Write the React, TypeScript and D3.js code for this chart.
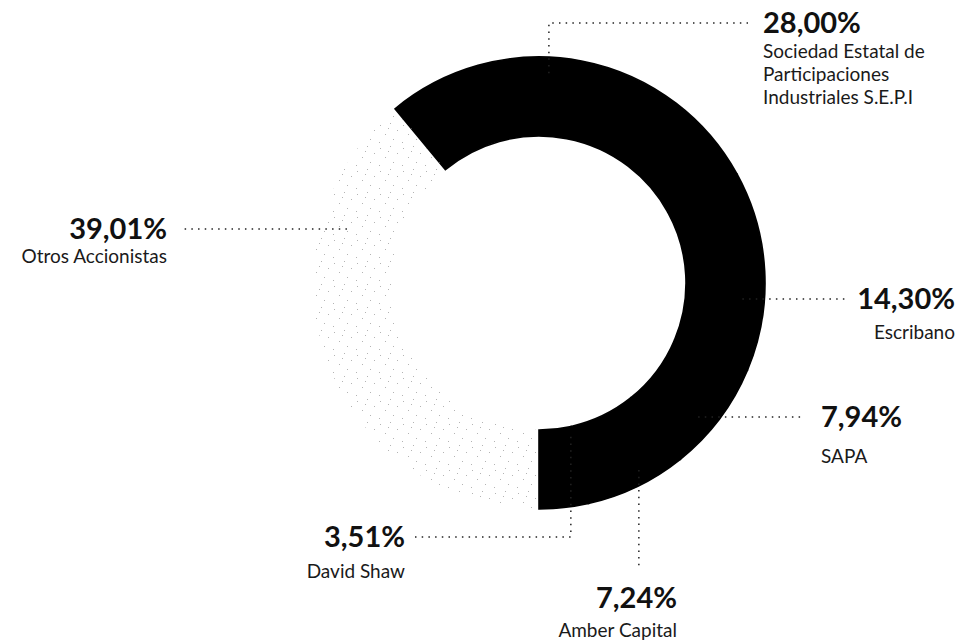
import { useEffect, useRef } from 'react';
import * as d3 from 'd3';

// shareholder structure, values in %
const shareholders = [
  'Sociedad Estatal de Participaciones Industriales S.E.P.I',
  'Escribano',
  'SAPA',
  'Amber Capital',
  'David Shaw',
  'Otros Accionistas'
];
const nameLines = [
  ['Sociedad Estatal de', 'Participaciones', 'Industriales S.E.P.I'],
  ['Escribano'],
  ['SAPA'],
  ['Amber Capital'],
  ['David Shaw'],
  ['Otros Accionistas']
];
const stakes = [28.0, 14.3, 7.94, 7.24, 3.51, 39.01];
const restName = 'Otros Accionistas';

// label placement: where the leader leaves the ring (deg / px) and where the text sits
interface LabelLayout {
  angle: number;
  r: number;
  bendY?: number;
  endX?: number;
  endY?: number;
  x: number;
  anchor: 'start' | 'end';
  labelY?: number;
  gap: number;
}
const labelLayout: LabelLayout[] = [
  { angle: 2.7, r: 210, bendY: 23, endX: 748, x: 763, anchor: 'start', gap: 25 },
  { angle: 94.5, r: 204, endX: 848, x: 955, anchor: 'end', gap: 30 },
  { angle: 130.1, r: 208, endX: 805, x: 821, anchor: 'start', gap: 36 },
  { angle: 151.9, r: 212, endY: 570, x: 677, anchor: 'end', labelY: 608, gap: 29 },
  { angle: 168.3, r: 157, bendY: 537, endX: 415, x: 405, anchor: 'end', gap: 31 },
  { angle: 285.7, r: 199.5, endX: 182, x: 167, anchor: 'end', gap: 24 }
];

const WIDTH = 961;
const HEIGHT = 641;
const FONT = 'Lato, "Open Sans", sans-serif';

export default function App() {
  const svgRef = useRef<SVGSVGElement | null>(null);

  useEffect(() => {
    const svgEl = svgRef.current;
    if (!svgEl) return;
    const svg = d3.select(svgEl);
    svg.selectAll('*').remove();

    const cx = 539;
    const cy = 283;
    const outer = 226;
    const inner = 147;

    const data = shareholders.map((name, i) => ({ name, value: stakes[i], i }));
    const total = d3.sum(data, (d) => d.value);
    const named = d3.sum(data.filter((d) => d.name !== restName), (d) => d.value);
    // named holders end exactly at 6 o'clock
    const start = Math.PI - (named / total) * 2 * Math.PI;

    const pie = d3
      .pie<{ name: string; value: number; i: number }>()
      .sort(null)
      .value((d) => d.value)
      .startAngle(start)
      .endAngle(start + 2 * Math.PI);
    const arc = d3.arc<d3.PieArcDatum<{ name: string; value: number; i: number }>>().innerRadius(inner).outerRadius(outer);

    // stipple for the "others" slice
    const defs = svg.append('defs');
    const pat = defs
      .append('pattern')
      .attr('id', 'stipple')
      .attr('width', 23)
      .attr('height', 23)
      .attr('patternUnits', 'userSpaceOnUse');
    const specks: [number, number][] = [[2, 3], [12, 1], [19, 8], [7, 12], [15, 17], [1, 20], [10, 6]];
    specks.forEach(([x, y]) => pat.append('rect').attr('x', x).attr('y', y).attr('width', 1).attr('height', 1).attr('fill', '#b4b4b4'));

    const g = svg.append('g').attr('transform', `translate(${cx},${cy})`);
    g.selectAll('path.slice')
      .data(pie(data))
      .join('path')
      .attr('class', 'slice')
      .attr('d', arc)
      .attr('fill', (d) => (d.data.name === restName ? 'url(#stipple)' : '#000'))
      .attr('stroke', (d) => (d.data.name === restName ? 'none' : '#000'))
      .attr('stroke-width', 1.6)
      .attr('stroke-linejoin', 'miter');

    const fmt = (v: number) => d3.format('.2f')(v).replace('.', ',') + '%';

    data.forEach((d, i) => {
      const l = labelLayout[i];
      const [px, py] = d3.pointRadial((l.angle * Math.PI) / 180, l.r);
      const ax = cx + px;
      const ay = cy + py;
      const p = d3.path();
      p.moveTo(ax, ay);
      let lineY = ay;
      if (l.bendY !== undefined) {
        p.lineTo(ax, l.bendY);
        p.lineTo(l.endX ?? ax, l.bendY);
        lineY = l.bendY;
      } else if (l.endY !== undefined) {
        p.lineTo(ax, l.endY);
      } else {
        p.lineTo(l.endX ?? ax, ay);
      }
      svg
        .append('path')
        .attr('d', p.toString())
        .attr('fill', 'none')
        .attr('stroke', '#222')
        .attr('stroke-width', 1.5)
        .attr('stroke-dasharray', '1.5 5.2');

      const base = l.labelY ?? lineY + 10;
      const text = svg
        .append('text')
        .attr('x', l.x)
        .attr('y', base)
        .attr('text-anchor', l.anchor)
        .attr('font-family', FONT)
        .attr('fill', '#111');
      text.append('tspan').attr('font-weight', 700).attr('font-size', 29).text(fmt(d.value));
      nameLines[i].forEach((line, k) => {
        text
          .append('tspan')
          .attr('x', l.x)
          .attr('y', base + l.gap + k * 23)
          .attr('font-weight', 400)
          .attr('font-size', 19)
          .attr('fill', '#1a1a1a')
          .text(line);
      });
    });
  }, []);

  return (
    <svg
      ref={svgRef}
      width={WIDTH}
      height={HEIGHT}
      style={{ position: 'absolute', left: 0, top: 0, background: '#fff' }}
    />
  );
}
